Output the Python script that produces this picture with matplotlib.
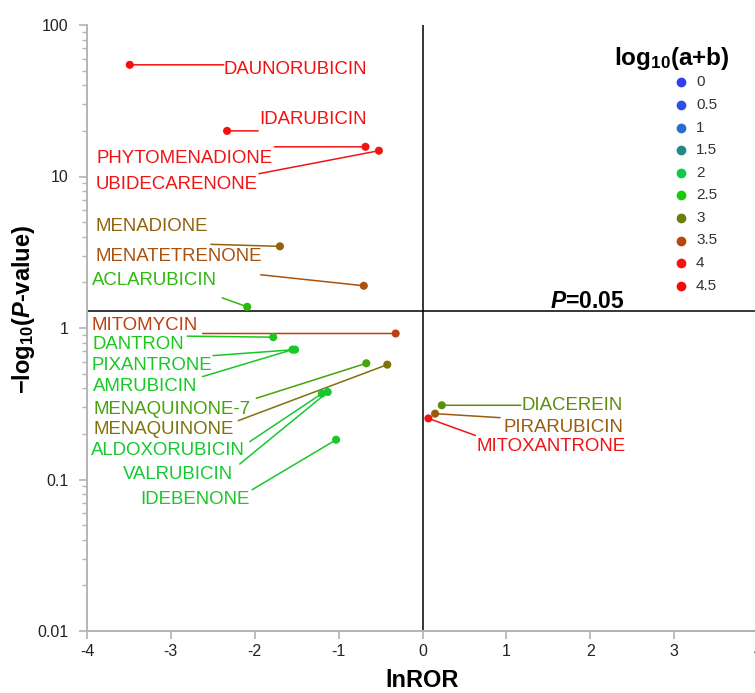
import numpy as np
import matplotlib.pyplot as plt
from matplotlib.colors import LinearSegmentedColormap
from matplotlib.ticker import LogLocator, NullFormatter, FuncFormatter

plt.rcParams['font.family'] = ['Liberation Sans', 'DejaVu Sans']
plt.rcParams['axes.unicode_minus'] = False
plt.rcParams['mathtext.fontset'] = 'custom'
plt.rcParams['mathtext.rm'] = 'Liberation Sans:bold'
plt.rcParams['mathtext.it'] = 'Liberation Sans:italic:bold'
plt.rcParams['mathtext.bf'] = 'Liberation Sans:bold'

# data
drugs = ['DAUNORUBICIN', 'IDARUBICIN', 'PHYTOMENADIONE', 'UBIDECARENONE',
         'MENADIONE', 'MENATETRENONE', 'ACLARUBICIN', 'MITOMYCIN', 'DANTRON',
         'PIXANTRONE', 'AMRUBICIN', 'MENAQUINONE-7', 'MENAQUINONE',
         'ALDOXORUBICIN', 'VALRUBICIN', 'IDEBENONE', 'DIACEREIN',
         'PIRARUBICIN', 'MITOXANTRONE']
ln_ror = [-3.49, -2.33, -0.68, -0.52, -1.70, -0.70, -2.09, -0.32, -1.78,
          -1.52, -1.55, -0.67, -0.42, -1.20, -1.13, -1.03, 0.23, 0.15, 0.07]
neg_log_p = [54.6, 20.0, 15.7, 14.8, 3.46, 1.90, 1.38, 0.92, 0.87,
             0.72, 0.72, 0.585, 0.573, 0.369, 0.378, 0.183, 0.309, 0.272, 0.253]
log_ab = [4.3, 4.2, 4.0, 4.0, 3.25, 3.4, 2.6, 3.55, 2.4,
          2.3, 2.3, 2.75, 3.1, 2.2, 2.2, 2.3, 2.9, 3.3, 4.0]

legend_levels = [0, 0.5, 1, 1.5, 2, 2.5, 3, 3.5, 4, 4.5]
legend_colors = ['#2f3ff8', '#2b4fe8', '#2a6ecb', '#1e8a8a', '#10c84a',
                 '#1ec80e', '#6e7e08', '#b8460e', '#f01414', '#fa0a0a']

p_cut = 0.05

# label layout: pixel offsets from each point (line end, text anchor)
line_off = [(94, 0), (31, 0), (-91, 0), (-120, -23), (-69, 2), (-103, 11),
            (-25, 9), (-193, 0), (-86, 1), (-82, -6), (-90, -27), (-110, -35),
            (-149, -56), (-72, -48), (-88, -72), (-84, -50), (79, 0), (65, -4),
            (47, -17)]
text_off = [(94, -2), (32, 14), (-93, -9), (-121, -31), (-72, 22), (-102, 32),
            (-30, 29), (-198, 10), (-89, -5), (-83, -14), (-95, -35), (-116, -44),
            (-153, -63), (-77, -55), (-95, -80), (-86, -57), (80, 2), (68, -12),
            (48, -26)]
text_ha = ['left', 'left', 'right', 'right', 'right', 'right', 'right', 'right',
           'right', 'right', 'right', 'right', 'right', 'right', 'right', 'right',
           'left', 'left', 'left']

cmap = LinearSegmentedColormap.from_list(
    'ab', list(zip(np.array(legend_levels) / 4.5, legend_colors)))
colors = [cmap(v / 4.5) for v in log_ab]

fig = plt.figure(figsize=(7.55, 6.93), dpi=100)
ax = fig.add_axes([87 / 755, 62 / 693, 671 / 755, 606 / 693])

ax.set_xlim(-4, 4)
ax.set_yscale('log')
ax.set_ylim(0.01, 100)

ax.axvline(0, color='black', lw=1.1, zorder=1)
ax.axhline(-np.log10(p_cut), color='black', lw=1.1, zorder=1)

ax.scatter(ln_ror, neg_log_p, c=colors, s=34, zorder=3, linewidths=0)

cap_half = 6.8  # half cap height in pixels, to center caps on the anchor
for i, name in enumerate(drugs):
    x, y, c = ln_ror[i], neg_log_p[i], colors[i]
    ax.annotate('', xy=(x, y), xytext=line_off[i], textcoords='offset pixels',
                arrowprops=dict(arrowstyle='-', color=c, lw=1.1,
                                shrinkA=0, shrinkB=0), zorder=2)
    ax.annotate(name, xy=(x, y),
                xytext=(text_off[i][0], text_off[i][1] - cap_half),
                textcoords='offset pixels', ha=text_ha[i], va='baseline',
                color=c, fontsize=13.4)

ax.annotate(r'$\mathit{P}$=0.05', xy=(1.52, -np.log10(p_cut)),
            xytext=(0, 3), textcoords='offset pixels', ha='left', va='baseline',
            fontsize=16.5, fontweight='bold')

for side in ['top', 'right']:
    ax.spines[side].set_visible(False)
for side in ['left', 'bottom']:
    ax.spines[side].set_color('#b4b4b4')
    ax.spines[side].set_linewidth(1.4)

ax.set_xticks([-4, -3, -2, -1, 0, 1, 2, 3, 4])
ax.yaxis.set_major_locator(LogLocator(base=10, numticks=10))
ax.yaxis.set_minor_locator(LogLocator(base=10, subs=np.arange(2, 10), numticks=10))
ax.yaxis.set_major_formatter(FuncFormatter(lambda v, p: '%g' % v))
ax.yaxis.set_minor_formatter(NullFormatter())
ax.tick_params(which='major', length=6, width=1.2, color='#b4b4b4',
               labelsize=11.5, labelcolor='#222222')
ax.tick_params(axis='y', which='major', pad=7.5)
ax.tick_params(which='minor', length=3.6, width=1.0, color='#b4b4b4')

ax.set_xlabel('lnROR', fontsize=17, fontweight='bold', labelpad=7)
ax.set_ylabel(r'−log$_{10}$($\mathit{P}$-value)', fontsize=17,
              fontweight='bold')
ax.yaxis.set_label_coords(-0.0745, 0.53)

# colour legend
fig.text(672 / 755, 1 - 58 / 693, r'log$_{10}$(a+b)', ha='center', va='center',
         fontsize=17.5, fontweight='bold')
for k, (lev, col) in enumerate(zip(legend_levels, legend_colors)):
    ypix = 82.3 + k * 22.6
    fig.lines.append(plt.Line2D([680.7 / 755], [1 - ypix / 693], marker='o',
                                markersize=6, color=col, linestyle='none',
                                transform=fig.transFigure))
    fig.text(696 / 755, 1 - ypix / 693, '%g' % lev, ha='left', va='center',
             fontsize=11, color='#333333')

fig.savefig('out.png', dpi=100)
